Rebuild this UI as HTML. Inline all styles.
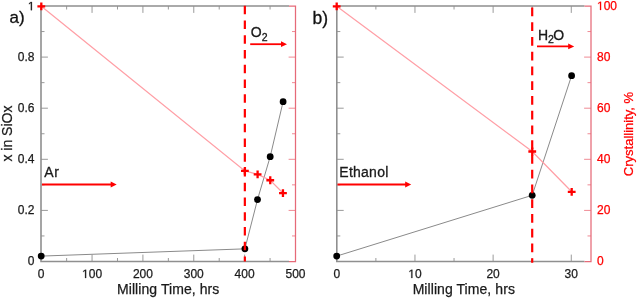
<!DOCTYPE html>
<html><head><meta charset="utf-8"><style>
html,body{margin:0;padding:0;background:#fff;}
body{width:637px;height:298px;overflow:hidden;}
svg{display:block;will-change:transform;font-family:"Liberation Sans",sans-serif;}
.ax{stroke:#8f8f8f;stroke-width:1.6;fill:none;}
.tk{stroke:#9a9a9a;stroke-width:1;fill:none;}
.rax{stroke:#e66a78;stroke-width:1.25;fill:none;}
.rtk{stroke:#f08a94;stroke-width:1;fill:none;}
.gl{stroke:#8a8a8a;stroke-width:1;fill:none;}
.rl{stroke:#ff9fa6;stroke-width:1.25;fill:none;}
.dl{stroke:#ff0000;stroke-width:2.2;stroke-dasharray:8.6 6.15;}
.cr{stroke:#ff0000;stroke-width:2.3;fill:none;}
.tl{font-size:12px;fill:#1a1a1a;stroke:#1a1a1a;stroke-width:0.25;}
.red{fill:#ff0000;stroke:#ff0000;}
.lab{font-size:14px;fill:#1a1a1a;stroke:#1a1a1a;stroke-width:0.3;}
.big{font-size:18px;fill:#111;stroke:#111;stroke-width:0.3;}
.tt{font-size:14px;fill:#1a1a1a;stroke:#1a1a1a;stroke-width:0.25;}
.tt.red{fill:#ff0000;stroke:#ff0000;font-size:13px;}
</style></head><body>
<svg width="637" height="298" viewBox="0 0 637 298">
<rect width="637" height="298" fill="#fff"/>
<line x1="66.63" y1="261.5" x2="66.63" y2="258.00" class="tk"/>
<line x1="66.63" y1="6.0" x2="66.63" y2="9.50" class="tk"/>
<line x1="92.06" y1="261.5" x2="92.06" y2="254.60" class="tk"/>
<line x1="92.06" y1="6.0" x2="92.06" y2="12.90" class="tk"/>
<line x1="117.49" y1="261.5" x2="117.49" y2="258.00" class="tk"/>
<line x1="117.49" y1="6.0" x2="117.49" y2="9.50" class="tk"/>
<line x1="142.92" y1="261.5" x2="142.92" y2="254.60" class="tk"/>
<line x1="142.92" y1="6.0" x2="142.92" y2="12.90" class="tk"/>
<line x1="168.35" y1="261.5" x2="168.35" y2="258.00" class="tk"/>
<line x1="168.35" y1="6.0" x2="168.35" y2="9.50" class="tk"/>
<line x1="193.78" y1="261.5" x2="193.78" y2="254.60" class="tk"/>
<line x1="193.78" y1="6.0" x2="193.78" y2="12.90" class="tk"/>
<line x1="219.21" y1="261.5" x2="219.21" y2="258.00" class="tk"/>
<line x1="219.21" y1="6.0" x2="219.21" y2="9.50" class="tk"/>
<line x1="244.64" y1="261.5" x2="244.64" y2="254.60" class="tk"/>
<line x1="244.64" y1="6.0" x2="244.64" y2="12.90" class="tk"/>
<line x1="270.07" y1="261.5" x2="270.07" y2="258.00" class="tk"/>
<line x1="270.07" y1="6.0" x2="270.07" y2="9.50" class="tk"/>
<line x1="41.0" y1="235.95" x2="44.50" y2="235.95" class="tk"/>
<line x1="295.5" y1="235.95" x2="292.00" y2="235.95" class="rtk"/>
<line x1="41.0" y1="210.40" x2="47.90" y2="210.40" class="tk"/>
<line x1="295.5" y1="210.40" x2="288.60" y2="210.40" class="rtk"/>
<line x1="41.0" y1="184.85" x2="44.50" y2="184.85" class="tk"/>
<line x1="295.5" y1="184.85" x2="292.00" y2="184.85" class="rtk"/>
<line x1="41.0" y1="159.30" x2="47.90" y2="159.30" class="tk"/>
<line x1="295.5" y1="159.30" x2="288.60" y2="159.30" class="rtk"/>
<line x1="41.0" y1="133.75" x2="44.50" y2="133.75" class="tk"/>
<line x1="295.5" y1="133.75" x2="292.00" y2="133.75" class="rtk"/>
<line x1="41.0" y1="108.20" x2="47.90" y2="108.20" class="tk"/>
<line x1="295.5" y1="108.20" x2="288.60" y2="108.20" class="rtk"/>
<line x1="41.0" y1="82.65" x2="44.50" y2="82.65" class="tk"/>
<line x1="295.5" y1="82.65" x2="292.00" y2="82.65" class="rtk"/>
<line x1="41.0" y1="57.10" x2="47.90" y2="57.10" class="tk"/>
<line x1="295.5" y1="57.10" x2="288.60" y2="57.10" class="rtk"/>
<line x1="41.0" y1="31.55" x2="44.50" y2="31.55" class="tk"/>
<line x1="295.5" y1="31.55" x2="292.00" y2="31.55" class="rtk"/>
<path d="M289.0 6.0 H41.0 V261.5 H289.0" class="ax"/>
<path d="M289.0 6.0 H295.5 V261.5 H289.0" class="rax"/>
<text x="41.20" y="278.00" class="tl" text-anchor="middle">0</text>
<path d="M515 0V1237L197 1010V1180L530 1409H696V0Z" transform="translate(82.05 278.00) scale(0.005859 -0.005859)" fill="#1a1a1a" stroke="#1a1a1a" stroke-width="42.7"/><text x="88.72" y="278.00" class="tl">0</text><text x="95.40" y="278.00" class="tl">0</text>
<text x="142.92" y="278.00" class="tl" text-anchor="middle">200</text>
<text x="193.78" y="278.00" class="tl" text-anchor="middle">300</text>
<text x="244.64" y="278.00" class="tl" text-anchor="middle">400</text>
<text x="295.50" y="278.00" class="tl" text-anchor="middle">500</text>
<text x="34.50" y="265.20" class="tl" text-anchor="end">0</text>
<text x="34.50" y="214.20" class="tl" text-anchor="end">0.2</text>
<text x="34.50" y="163.20" class="tl" text-anchor="end">0.4</text>
<text x="34.50" y="112.20" class="tl" text-anchor="end">0.6</text>
<text x="34.50" y="61.20" class="tl" text-anchor="end">0.8</text>
<path d="M515 0V1237L197 1010V1180L530 1409H696V0Z" transform="translate(27.83 10.20) scale(0.005859 -0.005859)" fill="#1a1a1a" stroke="#1a1a1a" stroke-width="42.7"/>
<line x1="375.88" y1="261.5" x2="375.88" y2="258.00" class="tk"/>
<line x1="375.88" y1="6.0" x2="375.88" y2="9.50" class="tk"/>
<line x1="414.96" y1="261.5" x2="414.96" y2="254.60" class="tk"/>
<line x1="414.96" y1="6.0" x2="414.96" y2="12.90" class="tk"/>
<line x1="454.04" y1="261.5" x2="454.04" y2="258.00" class="tk"/>
<line x1="454.04" y1="6.0" x2="454.04" y2="9.50" class="tk"/>
<line x1="493.12" y1="261.5" x2="493.12" y2="254.60" class="tk"/>
<line x1="493.12" y1="6.0" x2="493.12" y2="12.90" class="tk"/>
<line x1="532.20" y1="261.5" x2="532.20" y2="258.00" class="tk"/>
<line x1="532.20" y1="6.0" x2="532.20" y2="9.50" class="tk"/>
<line x1="571.28" y1="261.5" x2="571.28" y2="254.60" class="tk"/>
<line x1="571.28" y1="6.0" x2="571.28" y2="12.90" class="tk"/>
<line x1="336.8" y1="235.95" x2="340.30" y2="235.95" class="tk"/>
<line x1="591.0" y1="235.95" x2="587.50" y2="235.95" class="rtk"/>
<line x1="336.8" y1="210.40" x2="343.70" y2="210.40" class="tk"/>
<line x1="591.0" y1="210.40" x2="584.10" y2="210.40" class="rtk"/>
<line x1="336.8" y1="184.85" x2="340.30" y2="184.85" class="tk"/>
<line x1="591.0" y1="184.85" x2="587.50" y2="184.85" class="rtk"/>
<line x1="336.8" y1="159.30" x2="343.70" y2="159.30" class="tk"/>
<line x1="591.0" y1="159.30" x2="584.10" y2="159.30" class="rtk"/>
<line x1="336.8" y1="133.75" x2="340.30" y2="133.75" class="tk"/>
<line x1="591.0" y1="133.75" x2="587.50" y2="133.75" class="rtk"/>
<line x1="336.8" y1="108.20" x2="343.70" y2="108.20" class="tk"/>
<line x1="591.0" y1="108.20" x2="584.10" y2="108.20" class="rtk"/>
<line x1="336.8" y1="82.65" x2="340.30" y2="82.65" class="tk"/>
<line x1="591.0" y1="82.65" x2="587.50" y2="82.65" class="rtk"/>
<line x1="336.8" y1="57.10" x2="343.70" y2="57.10" class="tk"/>
<line x1="591.0" y1="57.10" x2="584.10" y2="57.10" class="rtk"/>
<line x1="336.8" y1="31.55" x2="340.30" y2="31.55" class="tk"/>
<line x1="591.0" y1="31.55" x2="587.50" y2="31.55" class="rtk"/>
<path d="M584.5 6.0 H336.8 V261.5 H584.5" class="ax"/>
<path d="M584.5 6.0 H591.0 V261.5 H584.5" class="rax"/>
<text x="336.80" y="278.00" class="tl" text-anchor="middle">0</text>
<path d="M515 0V1237L197 1010V1180L530 1409H696V0Z" transform="translate(408.29 278.00) scale(0.005859 -0.005859)" fill="#1a1a1a" stroke="#1a1a1a" stroke-width="42.7"/><text x="414.96" y="278.00" class="tl">0</text>
<text x="493.12" y="278.00" class="tl" text-anchor="middle">20</text>
<text x="571.28" y="278.00" class="tl" text-anchor="middle">30</text>
<text x="597.00" y="265.00" class="tl red" text-anchor="start">0</text>
<text x="597.00" y="214.00" class="tl red" text-anchor="start">20</text>
<text x="597.00" y="163.00" class="tl red" text-anchor="start">40</text>
<text x="597.00" y="112.00" class="tl red" text-anchor="start">60</text>
<text x="597.00" y="61.00" class="tl red" text-anchor="start">80</text>
<path d="M515 0V1237L197 1010V1180L530 1409H696V0Z" transform="translate(597.00 10.00) scale(0.005859 -0.005859)" fill="#ff0000" stroke="#ff0000" stroke-width="42.7"/><text x="603.67" y="10.00" class="tl red">0</text><text x="610.34" y="10.00" class="tl red">0</text>
<polyline points="41.20,256.10 244.90,248.85 257.50,199.60 270.20,156.65 283.10,101.67" class="gl"/>
<polyline points="41.30,6.30 244.90,170.90 257.60,174.40 270.25,180.27 282.95,193.06" class="rl"/>
<circle cx="41.20" cy="256.10" r="3.4" fill="#000"/>
<circle cx="244.90" cy="248.85" r="3.4" fill="#000"/>
<circle cx="257.50" cy="199.60" r="3.4" fill="#000"/>
<circle cx="270.20" cy="156.65" r="3.4" fill="#000"/>
<circle cx="283.10" cy="101.67" r="3.4" fill="#000"/>
<line x1="244.85" y1="5.7" x2="244.85" y2="261.5" class="dl"/>
<path d="M37.40 6.30 H45.20 M41.30 2.40 V10.20" class="cr"/>
<path d="M241.00 170.90 H248.80 M244.90 167.00 V174.80" class="cr"/>
<path d="M253.70 174.40 H261.50 M257.60 170.50 V178.30" class="cr"/>
<path d="M266.35 180.27 H274.15 M270.25 176.37 V184.17" class="cr"/>
<path d="M279.05 193.06 H286.85 M282.95 189.16 V196.96" class="cr"/>
<polyline points="336.70,256.10 532.20,195.30 571.60,75.65" class="gl"/>
<polyline points="336.70,6.30 532.25,151.50 571.70,191.80" class="rl"/>
<circle cx="336.70" cy="256.10" r="3.4" fill="#000"/>
<circle cx="532.20" cy="195.30" r="3.4" fill="#000"/>
<circle cx="571.60" cy="75.65" r="3.4" fill="#000"/>
<line x1="532.2" y1="7.6" x2="532.2" y2="262.8" class="dl"/>
<path d="M332.80 6.30 H340.60 M336.70 2.40 V10.20" class="cr"/>
<path d="M528.35 151.50 H536.15 M532.25 147.60 V155.40" class="cr"/>
<path d="M567.80 191.80 H575.60 M571.70 187.90 V195.70" class="cr"/>
<line x1="42" y1="184.5" x2="111.7" y2="184.5" stroke="#ff0000" stroke-width="1.8"/>
<path d="M110.7 181.6 L116.7 184.5 L110.7 187.4 Z" fill="#ff0000"/>
<line x1="337.5" y1="184.5" x2="406.2" y2="184.5" stroke="#ff0000" stroke-width="1.8"/>
<path d="M405.2 181.6 L411.2 184.5 L405.2 187.4 Z" fill="#ff0000"/>
<line x1="250.2" y1="44.2" x2="282" y2="44.2" stroke="#ff0000" stroke-width="1.8"/>
<path d="M281 41.300000000000004 L287 44.2 L281 47.1 Z" fill="#ff0000"/>
<line x1="537" y1="46.4" x2="569.2" y2="46.4" stroke="#ff0000" stroke-width="1.8"/>
<path d="M568.2 43.5 L574.2 46.4 L568.2 49.3 Z" fill="#ff0000"/>
<text x="44.3" y="176.8" class="lab" letter-spacing="0.6">Ar</text>
<text x="339.3" y="176.8" class="lab" letter-spacing="0.25">Ethanol</text>
<text x="250.8" y="36.9" class="lab">O<tspan font-size="10.5" dy="3.7">2</tspan></text>
<text x="538" y="39.6" class="lab">H<tspan font-size="10.5" dy="3.5" dx="-0.2">2</tspan><tspan dy="-3.5" dx="-0.6">O</tspan></text>
<text x="9.5" y="23.1" class="big" style="font-size:17px">a)</text>
<text x="312.6" y="23.7" class="big" style="font-size:17.5px">b)</text>
<text x="168.2" y="294" class="tt" text-anchor="middle" letter-spacing="0.07">Milling Time, hrs</text>
<text x="463.8" y="294" class="tt" text-anchor="middle" letter-spacing="0.07">Milling Time, hrs</text>
<text transform="translate(11.6 133.6) rotate(-90)" class="tt" text-anchor="middle">x in SiOx</text>
<text transform="translate(632.6 134.0) rotate(-90)" class="tt red" text-anchor="middle">Crystallinity, %</text>
</svg>
</body></html>
